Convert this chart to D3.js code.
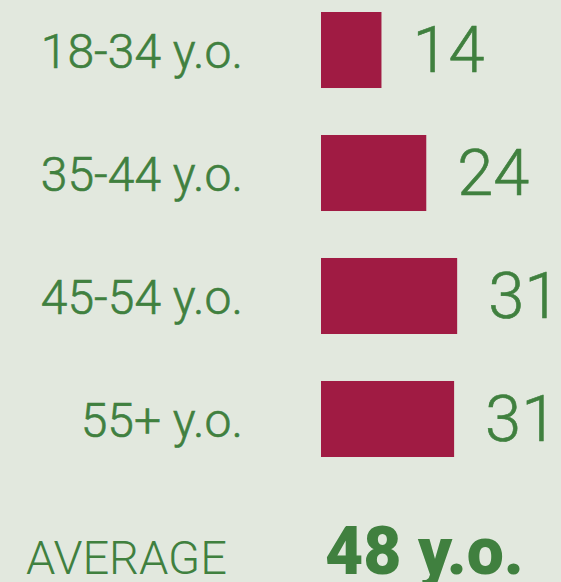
<!DOCTYPE html>
<html>
<head>
<meta charset="utf-8">
<script src="https://cdn.jsdelivr.net/npm/d3@7"></script>
<style>
  html, body { margin: 0; padding: 0; background: #e2e8de; }
  svg { display: block; }
</style>
</head>
<body>
<div id="chart"></div>
<script>
const categories = ["18-34 y.o.", "35-44 y.o.", "45-54 y.o.", "55+ y.o."];
const values = [13.9, 24.2, 31.3, 30.6];
const averageLabel = "AVERAGE";
const averageValue = "48 y.o.";

const width = 561;
const height = 582;
const green = "#40803f";
const barColor = "#a01b43";

const svg = d3
  .select("#chart")
  .append("svg")
  .attr("width", width)
  .attr("height", height)
  .style("font-family", "Roboto, 'Noto Sans', sans-serif");

svg.append("rect").attr("width", width).attr("height", height).attr("fill", "#e2e8de");

// Scales
const xScale = d3.scaleLinear().domain([0, 100]).range([321, 756]);
const yScale = d3
  .scaleBand()
  .domain(categories)
  .range([12, 457])
  .paddingInner(0.382)
  .paddingOuter(0);

// Bars
svg
  .append("g")
  .selectAll("rect")
  .data(values)
  .enter()
  .append("rect")
  .attr("x", xScale(0))
  .attr("y", (d, i) => yScale(categories[i]))
  .attr("width", (d) => xScale(d) - xScale(0))
  .attr("height", yScale.bandwidth())
  .attr("fill", barColor);

// Category labels
svg
  .append("g")
  .selectAll("text")
  .data(categories)
  .enter()
  .append("text")
  .attr("x", 243)
  .attr("y", (d) => yScale(d) + yScale.bandwidth() / 2 + 18)
  .attr("text-anchor", "end")
  .attr("fill", green)
  .style("font-size", "48px")
  .style("font-weight", 300)
  .style("stroke", green)
  .style("stroke-width", 0.6)
  .text((d) => d);

// Value labels
svg
  .append("g")
  .selectAll("text")
  .data(values)
  .enter()
  .append("text")
  .attr("x", (d) => xScale(d) + 31)
  .attr("y", (d, i) => yScale(categories[i]) + yScale.bandwidth() / 2 + 22)
  .attr("fill", green)
  .style("font-size", "65px")
  .style("font-weight", 300)
  .style("stroke", green)
  .style("stroke-width", 0.6)
  .text((d) => d3.format(".0f")(d));

// Average row
svg
  .append("text")
  .attr("x", 26)
  .attr("y", 574)
  .attr("fill", green)
  .style("font-size", "47px")
  .style("font-weight", 300)
  .text(averageLabel);

svg
  .append("text")
  .attr("x", 325)
  .attr("y", 574)
  .attr("fill", green)
  .style("font-size", "66px")
  .style("font-weight", 900)
  .text(averageValue);
</script>
</body>
</html>
